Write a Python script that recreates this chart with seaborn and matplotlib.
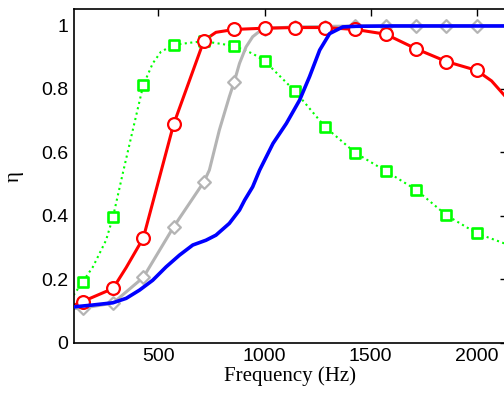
import numpy as np
import pandas as pd
import matplotlib
matplotlib.use("Agg")
import matplotlib.pyplot as plt
import seaborn as sns

# marker positions (Hz) and values
freq_mk = [142.9, 285.7, 428.6, 571.4, 714.3, 857.1, 1000.0, 1142.9,
           1285.7, 1428.6, 1571.4, 1714.3, 1857.1, 2000.0]
red_mk = [0.130, 0.171, 0.330, 0.688, 0.952, 0.987, 0.991, 0.993,
          0.993, 0.987, 0.972, 0.926, 0.886, 0.858]
gray_mk = [0.109, 0.125, 0.206, 0.365, 0.507, 0.822, 0.99, 0.995,
           0.996, 0.998, 0.998, 0.998, 0.998, 0.998]
green_mk = [0.192, 0.396, 0.812, 0.938, 0.950, 0.935, 0.888, 0.793,
            0.680, 0.598, 0.541, 0.482, 0.402, 0.345]

# curves
red_f = [100, 142.9, 285.7, 348, 428.6, 571.4, 714.3, 771, 857.1, 1000,
         1142.9, 1285.7, 1428.6, 1571.4, 1714.3, 1857.1, 2000, 2070, 2143]
red_y = [0.118, 0.130, 0.171, 0.237, 0.330, 0.688, 0.952, 0.978, 0.987,
         0.991, 0.993, 0.993, 0.987, 0.972, 0.926, 0.886, 0.858, 0.825,
         0.77]

gray_f = [100, 142.9, 285.7, 428.6, 571.4, 714.3, 740, 787, 834, 857.1,
          882, 913, 944, 993, 1142.9, 1428.6, 2143]
gray_y = [0.108, 0.109, 0.125, 0.206, 0.365, 0.507, 0.544, 0.670, 0.775,
          0.822, 0.880, 0.932, 0.964, 0.990, 0.995, 0.998, 0.998]

green_f = [100, 142.9, 191, 253, 285.7, 332, 379, 428.6, 473, 512, 571.4,
           646, 714.3, 857.1, 944, 1000, 1142.9, 1285.7, 1428.6, 1571.4,
           1714.3, 1857.1, 2000, 2143]
green_y = [0.150, 0.192, 0.239, 0.323, 0.396, 0.534, 0.670, 0.812, 0.880,
           0.917, 0.938, 0.945, 0.950, 0.935, 0.911, 0.888, 0.793, 0.680,
           0.598, 0.541, 0.482, 0.402, 0.345, 0.31]

blue_f = [100, 191, 285, 348, 411, 473, 536, 599, 662, 724, 771, 834, 882,
          906, 944, 977, 1040, 1103, 1165, 1212, 1260, 1307, 1369, 1432,
          1600, 2143]
blue_y = [0.113, 0.119, 0.126, 0.140, 0.166, 0.197, 0.239, 0.276, 0.308,
          0.323, 0.339, 0.376, 0.418, 0.449, 0.491, 0.544, 0.628, 0.691,
          0.764, 0.838, 0.922, 0.974, 0.995, 0.997, 0.998, 0.998]

RED, GRAY, GREEN, BLUE = "#ff0000", "#b4b4b4", "#00ff00", "#0000ff"

sns.set_style("white")
plt.rcParams["font.family"] = ["Liberation Sans", "DejaVu Sans"]
plt.rcParams["text.color"] = "black"
plt.rcParams["xtick.color"] = "black"
plt.rcParams["ytick.color"] = "black"
plt.rcParams["axes.labelcolor"] = "black"

fig = plt.figure(figsize=(5.04, 3.94), dpi=100)
ax = fig.add_axes([0.146, 0.130, 0.860, 0.846])

# green dotted
sns.lineplot(x=green_f, y=green_y, ax=ax, color=GREEN, linestyle=":",
             linewidth=1.5)
sns.scatterplot(x=freq_mk, y=green_mk, ax=ax, marker="s", s=44,
                facecolor="white", edgecolor=GREEN, linewidth=1.9, zorder=3)
# gray
sns.lineplot(x=gray_f, y=gray_y, ax=ax, color=GRAY, linewidth=2.2)
sns.scatterplot(x=freq_mk, y=gray_mk, ax=ax, marker="D", s=42,
                facecolor="white", edgecolor=GRAY, linewidth=1.6, zorder=3)
# red
sns.lineplot(x=red_f, y=red_y, ax=ax, color=RED, linewidth=2.2)
sns.scatterplot(x=freq_mk, y=red_mk, ax=ax, marker="o", s=85,
                facecolor="white", edgecolor=RED, linewidth=1.6, zorder=4)
# blue
sns.lineplot(x=blue_f, y=blue_y, ax=ax, color=BLUE, linewidth=2.6,
             zorder=5)

ax.set_xlim(100, 2143)
ax.set_ylim(0, 1.05)
ax.set_xticks([500, 1000, 1500, 2000])
ax.set_yticks([0, 0.2, 0.4, 0.6, 0.8, 1.0])
ax.set_yticklabels(["0", "0.2", "0.4", "0.6", "0.8", "1"])
ax.tick_params(direction="in", length=5, width=1, labelsize=14,
               top=True, right=True, pad=4, colors="black")
for s in ax.spines.values():
    s.set_color("black")
    s.set_linewidth(1.2)

ax.set_xlabel("Frequency (Hz)", family="Liberation Serif", fontsize=15,
              labelpad=1, color="black")
ax.set_ylabel("η", family="Liberation Serif", fontsize=15, labelpad=12,
              color="black")

fig.savefig("out.png", dpi=100)
plt.close(fig)
